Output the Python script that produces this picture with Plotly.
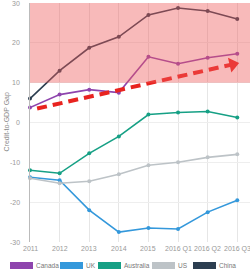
import plotly.graph_objects as go

categories = ["2011", "2012", "2013", "2014", "2015", "2016 Q1", "2016 Q2", "2016 Q3"]
canada = [3.75, 7.0, 8.25, 7.5, 16.5, 14.75, 16.25, 17.25]
uk = [-13.75, -14.5, -22.0, -27.5, -26.5, -26.75, -22.5, -19.5]
australia = [-12.0, -12.75, -7.75, -3.5, 2.0, 2.5, 2.75, 1.25]
us = [-14.0, -15.25, -14.75, -13.0, -10.75, -10.0, -8.75, -8.0]
china = [6.0, 13.0, 18.75, 21.5, 27.0, 28.75, 28.0, 26.0]

series_names = ["Canada", "UK", "Australia", "US", "China"]
series_values = [canada, uk, australia, us, china]
series_colors = ["#8e44ad", "#3498db", "#16a085", "#bdc3c7", "#2c3e50"]

y_ticks = [-30, -20, -10, 0, 10, 20, 30]
danger_zone = [10, 30]
trend_x = [0.24, 6.85]
trend_y = [3.5, 14.6]

W, H = 250, 273
L, R, T, B = 30, 0, 3, 31
pw, ph = W - L - R, H - T - B

def px2paper_x(px):
    return (px - L) / pw

def px2paper_y(py):
    return (H - B - py) / ph

xs = list(range(len(categories)))
fig = go.Figure()

for name, vals, col in zip(series_names, series_values, series_colors):
    fig.add_trace(go.Scatter(
        x=xs, y=vals, name=name, mode="lines+markers",
        line=dict(color=col, width=1.6),
        marker=dict(color=col, size=4),
        showlegend=False, hoverinfo="skip", cliponaxis=False,
    ))

# trend arrow (dashed line + arrow head)
fig.add_trace(go.Scatter(
    x=trend_x, y=trend_y, mode="lines",
    line=dict(color="#e8231f", width=4, dash="10px,6px"),
    showlegend=False, hoverinfo="skip",
))
fig.add_trace(go.Scatter(
    x=[trend_x[1]], y=[trend_y[1]], mode="markers",
    marker=dict(symbol="triangle-right", size=13, color="#e8231f", angle=-13,
                line=dict(width=0)),
    showlegend=False, hoverinfo="skip",
))

shapes = [
    dict(type="rect", xref="paper", yref="y", x0=0, x1=1,
         y0=danger_zone[0], y1=danger_zone[1],
         fillcolor="rgba(238,90,90,0.42)", line=dict(width=0), layer="above"),
]
annotations = [
    dict(text="Credit-to-GDP Gap", xref="paper", yref="paper",
         x=px2paper_x(6), y=0.5, textangle=-90, showarrow=False,
         font=dict(size=7, color="#888"), xanchor="center", yanchor="middle"),
]
for v in y_ticks:
    annotations.append(dict(text=str(v), xref="paper", yref="y",
                            x=px2paper_x(22), y=v, xanchor="right", yanchor="middle",
                            showarrow=False, font=dict(size=7, color="#999")))
for xv, lab in zip(xs, categories):
    annotations.append(dict(text=lab, xref="x", yref="paper",
                            x=xv, y=px2paper_y(249), xanchor="center", yanchor="middle",
                            showarrow=False, font=dict(size=7, color="#999")))

legend_x0 = [10, 60, 98, 152, 193]
for lx, name, col in zip(legend_x0, series_names, series_colors):
    shapes.append(dict(type="rect", xref="paper", yref="paper",
                       x0=px2paper_x(lx), x1=px2paper_x(lx + 23),
                       y0=px2paper_y(269), y1=px2paper_y(262),
                       fillcolor=col, line=dict(width=0)))
    annotations.append(dict(text=name, xref="paper", yref="paper",
                            x=px2paper_x(lx + 24), y=px2paper_y(265.5),
                            xanchor="left", yanchor="middle", showarrow=False,
                            font=dict(size=6.5, color="#777")))

fig.update_layout(
    width=W, height=H,
    margin=dict(l=L, r=R, t=T, b=B),
    paper_bgcolor="white", plot_bgcolor="white",
    font=dict(family="Liberation Sans, Arial, sans-serif", size=7, color="#999"),
    xaxis=dict(tickvals=xs, range=[0, 7.43],
               showgrid=True, gridcolor="#e6e6e6", gridwidth=1,
               zeroline=False, showline=False, ticks="",
               showticklabels=False, fixedrange=True),
    yaxis=dict(tickvals=y_ticks, range=[-30, 30],
               showgrid=True, gridcolor="#eeeeee", gridwidth=1,
               zeroline=False, showline=True, linecolor="#bbb", linewidth=1,
               ticks="", showticklabels=False, fixedrange=True),
    shapes=shapes, annotations=annotations,
    showlegend=False,
)

fig.write_html("out.html")
